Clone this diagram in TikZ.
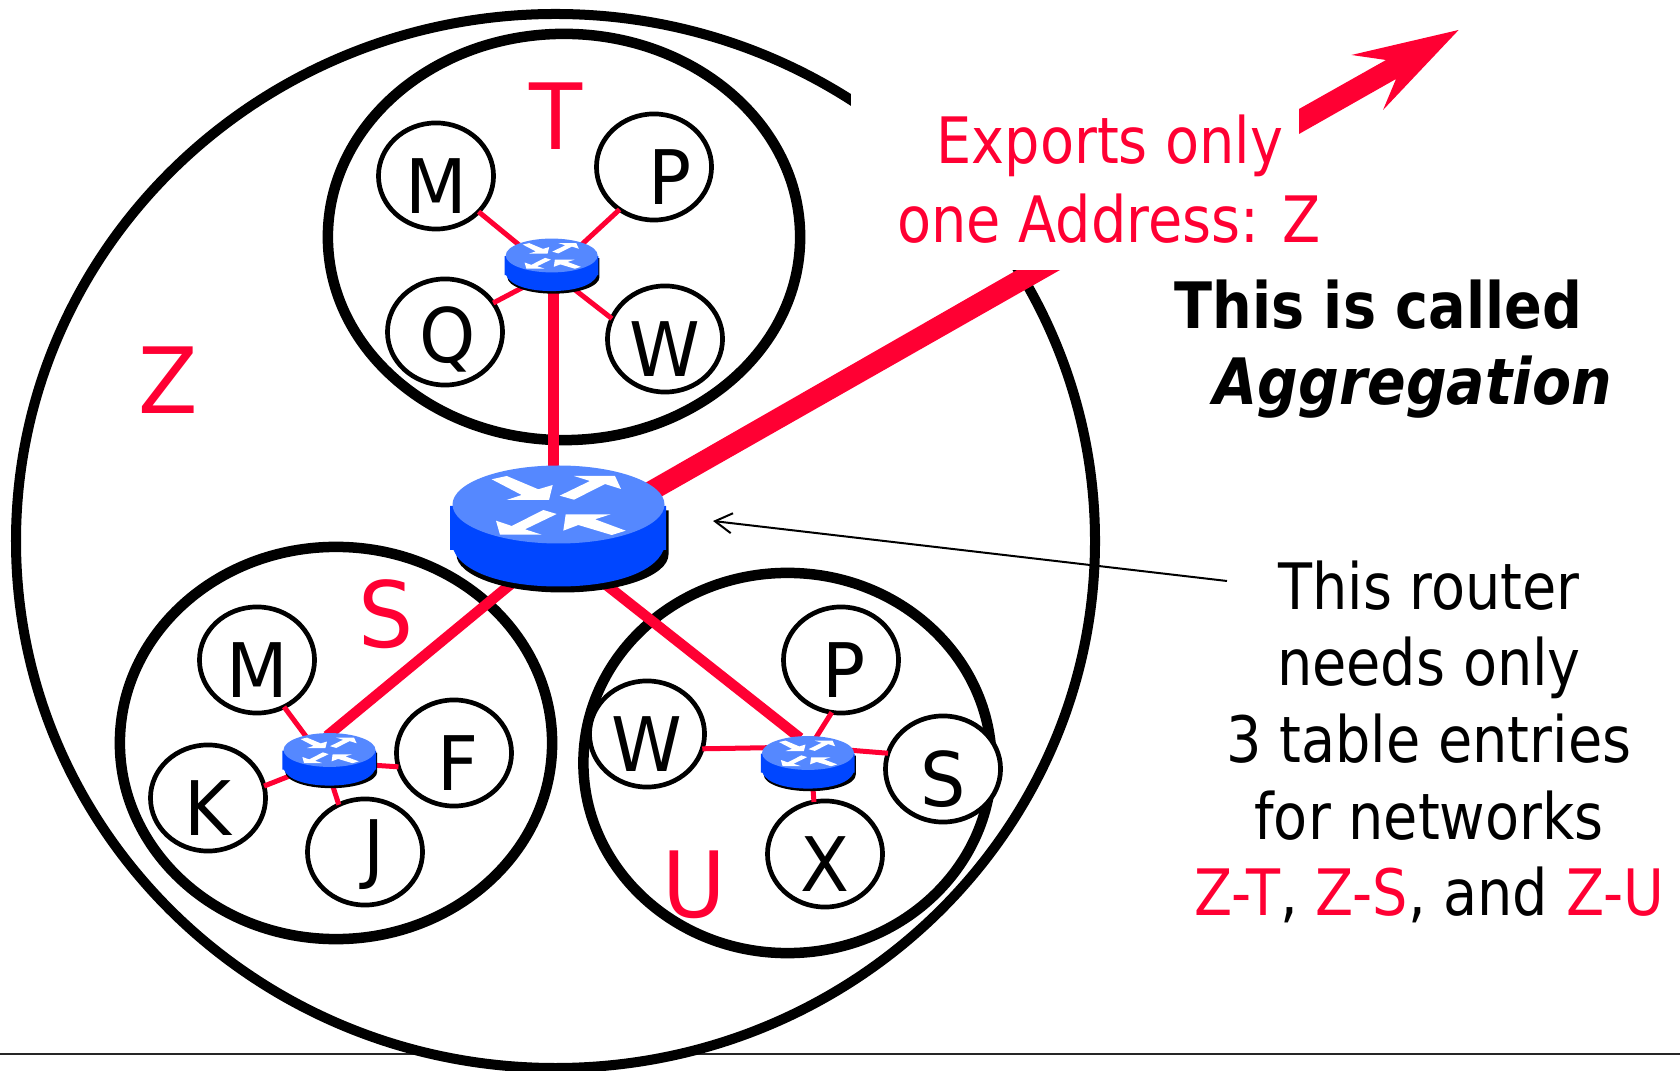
\documentclass[tikz,border=0pt]{standalone}
\usepackage{fontspec}
\setmainfont[FakeStretch=0.87]{DejaVu Sans}
\newfontfamily\widefont[FakeStretch=0.95]{DejaVu Sans}
\newfontfamily\aggrfont[FakeStretch=0.89]{DejaVu Sans}
\usetikzlibrary{arrows.meta,shapes.geometric}
\definecolor{netred}{RGB}{255,0,51}
\definecolor{routerside}{RGB}{0,70,255}
\definecolor{routertop}{RGB}{85,136,255}
\tikzset{
  netring/.style={draw,ellipse,inner sep=0pt,outer sep=0pt,line width=0.105cm},
  host/.style={draw,ellipse,fill=white,inner sep=0pt,outer sep=0pt,line width=0.047cm,
    minimum width=1.15cm,minimum height=1.05cm,font=\widefont\fontsize{21.4}{21.4}\selectfont,
    text height=0.75cm,text depth=0pt},
  tag/.style={text=netred,inner sep=0pt,font=\widefont\fontsize{26}{26}\selectfont},
  words/.style={inner sep=0pt,align=center,font=\fontsize{18.2}{21.8}\selectfont},
  thinlink/.style={netred,line width=0.05cm},
  thicklink/.style={netred,line width=0.105cm},
  router/.pic={
    \fill[black,shift={(4,6)}] (-106,0) -- (-106,44) arc[start angle=180,end angle=360,x radius=106,y radius=-38] -- (106,0) -- cycle;
    \fill[routerside] (-108.5,1.5) -- (-108.5,45.5) -- (-105,45.5) .. controls (-95,70) and (-50,82) .. (0,82) .. controls (50,82) and (95,70) .. (105,45.5) -- (107.5,45.5) -- (107.5,1.5) -- cycle;
    \fill[routertop] (0,0) ellipse[x radius=106,y radius=39];
    \fill[white] (-66.8,-25.2) -- (-51.8,-28.5) -- (-20.2,-15.2) -- (-5.8,-19.5) -- (-9.5,-4.5) -- (-51.8,-4.5) -- (-36.8,-9.5) -- cycle;
    \fill[white] (1.2,-8.8) -- (31.5,-23.5) -- (15.5,-28.5) -- (56.5,-28.5) -- (62.5,-15.5) -- (46.5,-20.5) -- (15.5,-4.8) -- cycle;
    \fill[white] (-1.8,9.5) -- (-33.5,24.8) -- (-16.8,30.2) -- (-58.5,30.2) -- (-62.5,16.2) -- (-46.8,21.5) -- (-15.2,5.5) -- cycle;
    \fill[white] (4.8,26.2) -- (7.2,9.8) -- (52.2,9.8) -- (36.5,14.8) -- (67.2,26.2) -- (53.2,30.5) -- (19.8,20.5) -- cycle;
  }
}

\begin{document}
\begin{tikzpicture}[x=0.01cm,y=-0.01cm]
\useasboundingbox (0,0) rectangle (1680,1071);

% Rule and outer ring
\draw[line width=0.015cm,black!85] (0,1054) -- (1680,1054);
\draw[fill=white,line width=0.1cm] (555.5,541) ellipse[x radius=539.5,y radius=527];

% Export bar
\fill[netred] (645,483) -- (1017,270) -- (1060,270) -- (659,498) -- cycle;
\fill[white] (851,0) rectangle (1680,270);
\fill[netred] (1299,109) -- (1386,60) -- (1351.4,55) -- (1458.6,30) -- (1383,110) -- (1396,79) -- (1299,134) -- cycle;

% Rings
\node[netring,minimum width=4.72cm,minimum height=4.06cm] (ringT) at (564,237) {};
\node[netring,minimum width=4.32cm,minimum height=3.92cm] (ringS) at (336,743) {};
\node[netring,minimum width=4.08cm,minimum height=3.80cm] (ringU) at (787.5,763) {};

% Routers
\coordinate (rC) at (557,546);
\coordinate (rCtop) at (553.7,500);
\coordinate (rT) at (552,272);
\coordinate (rTtop) at (553.7,272);
\coordinate (rS) at (325,762);
\coordinate (rStop) at (327,736);
\coordinate (rU) at (810,747);
\coordinate (rUtop) at (800,738);

% Hosts
\node[host] (tM) at (436,176) {M};
\node[host] (tP) at (654,167) {\hspace*{0.32cm}P};
\node[host] (tQ) at (445,332) {\hspace*{0.06cm}\raisebox{0.07cm}{Q}};
\node[host] (tW) at (665,339) {W};
\node[host] (sM) at (257,660) {M};
\node[host] (sF) at (454,753) {\hspace*{0.08cm}F};
\node[host] (sK) at (208,798) {K};
\node[host] (sJ) at (365,852) {\hspace*{0.18cm}\raisebox{0.15cm}{J}};
\node[host] (uW) at (647,734) {W};
\node[host] (uP) at (841,660) {\hspace*{0.06cm}P};
\node[host] (uS) at (943,769) {S};
\node[host] (uX) at (825,854) {X};

% Links
\foreach \h/\a in {tM/320,tP/231,tQ/31,tW/159} \draw[thinlink] (\h.\a) -- (rT);
\foreach \h/\a in {sM/300,sF/194,sK/12,sJ/119} \draw[thinlink] (\h.\a) -- (rS);
\foreach \h/\a in {uW/345,uP/260,uS/164,uX/102} \draw[thinlink] (\h.\a) -- (rU);
\draw[thicklink] (rCtop) -- (rTtop);
\draw[thicklink] (rC) -- (rStop);
\draw[thicklink] (rC) -- (rUtop);

\pic at (558.5,504.5) {router};
\pic[scale=0.434] at (551.7,255.5) {router};
\pic[scale=0.434] at (329.5,750) {router};
\pic[scale=0.434] at (808,753) {router};

% Tags
\node[tag,anchor=base] (tagZ) at (168,414) {Z};
\node[tag,anchor=base] (tagT) at (556,150) {T};
\node[tag,anchor=base] (tagS) at (386,648) {S};
\node[tag,anchor=base] (tagU) at (694,917) {U};

% Text
\node[words,text=netred,anchor=base] (exports) at (1110,164) {Exports only};
\node[words,text=netred,anchor=base] (address) at (1109,243) {one Address: Z};
\node[words,anchor=base west,font=\fontsize{18.2}{21.8}\selectfont\bfseries] (called) at (1174,329) {This is called};
\node[words,anchor=base west,font=\aggrfont\fontsize{18.2}{21.8}\selectfont\bfseries\itshape] (aggr) at (1213,405) {Aggregation};
\node[words] (needs) at (1429,742) {This router\\needs only\\3 table entries\\for networks\\\textcolor{netred}{Z-T}, \textcolor{netred}{Z-S}, and \textcolor{netred}{Z-U}};

% Pointer
\coordinate (ptrA) at (1227,581);
\coordinate (ptrB) at (713,521);
\draw[line width=0.02cm,-{Straight Barb[length=0.17cm,width=0.2cm]}] (ptrA) -- (ptrB);

\end{tikzpicture}
\end{document}
